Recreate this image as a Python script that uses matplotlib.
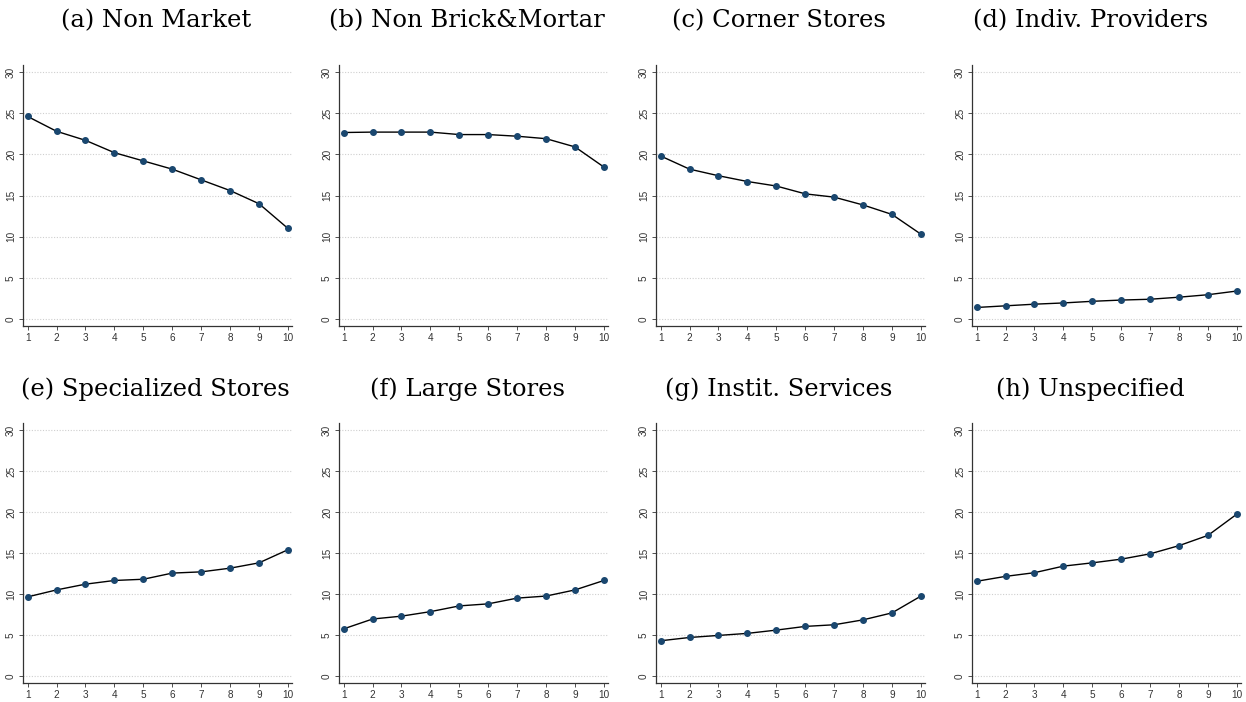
import matplotlib
matplotlib.use("Agg")
import matplotlib.pyplot as plt
import numpy as np

DECILES = np.arange(1, 11)

TITLES = [
    "(a) Non Market",
    "(b) Non Brick&Mortar",
    "(c) Corner Stores",
    "(d) Indiv. Providers",
    "(e) Specialized Stores",
    "(f) Large Stores",
    "(g) Instit. Services",
    "(h) Unspecified",
]

non_market = [24.6, 22.8, 21.7, 20.2, 19.2, 18.2, 16.9, 15.6, 14.0, 11.0]
non_brick_mortar = [22.65, 22.7, 22.7, 22.7, 22.4, 22.4, 22.2, 21.9, 20.9, 18.45]
corner_stores = [19.8, 18.2, 17.4, 16.7, 16.15, 15.2, 14.8, 13.85, 12.7, 10.3]
indiv_providers = [1.4, 1.6, 1.8, 1.95, 2.15, 2.3, 2.4, 2.65, 2.95, 3.4]
specialized_stores = [9.65, 10.5, 11.2, 11.65, 11.8, 12.55, 12.7, 13.15, 13.8, 15.4]
large_stores = [5.75, 6.95, 7.3, 7.85, 8.55, 8.8, 9.5, 9.75, 10.5, 11.65]
instit_services = [4.3, 4.7, 4.95, 5.2, 5.6, 6.05, 6.25, 6.85, 7.7, 9.75]
unspecified = [11.55, 12.15, 12.6, 13.4, 13.8, 14.25, 14.9, 15.9, 17.15, 19.75]

SERIES = [
    non_market, non_brick_mortar, corner_stores, indiv_providers,
    specialized_stores, large_stores, instit_services, unspecified,
]

W, H = 1246, 702
fig = plt.figure(figsize=(W / 100, H / 100), dpi=100)

# axes boxes in pixels: (left, right) per column, (top, bottom) per row
col_px = [(23, 292), (339, 608), (656, 925), (972, 1241)]
row_px = [(65, 326), (423, 683)]
title_y = [21, 389]

for i, (title, values) in enumerate(zip(TITLES, SERIES)):
    r, c = divmod(i, 4)
    x0, x1 = col_px[c]
    y0, y1 = row_px[r]
    ax = fig.add_axes([x0 / W, 1 - y1 / H, (x1 - x0) / W, (y1 - y0) / H])

    ax.plot(DECILES, values, color="black", linewidth=1.0, zorder=2)
    ax.plot(DECILES, values, linestyle="none", marker="o", markersize=4.0,
            color="#1a476f", zorder=3)

    ax.set_xlim(0.84, 10.14)
    ax.set_ylim(-0.85, 30.85)
    ax.set_xticks(DECILES)
    ax.set_yticks(np.arange(0, 31, 5))
    ax.yaxis.grid(True, linestyle=(0, (1, 1.5)), color="#cfcfcf", linewidth=0.8)
    ax.set_axisbelow(True)

    for side in ("top", "right"):
        ax.spines[side].set_visible(False)
    for side in ("left", "bottom"):
        ax.spines[side].set_color("#333333")
        ax.spines[side].set_linewidth(0.9)

    ax.tick_params(axis="both", labelsize=7.2, length=3, width=0.6,
                   colors="#333333", pad=2)
    for lab in ax.get_xticklabels() + ax.get_yticklabels():
        lab.set_fontfamily("Liberation Sans")
    for lab in ax.get_yticklabels():
        lab.set_rotation(90)
        lab.set_va("center")

    fig.text((c + 0.5) / 4, 1 - title_y[r] / H, title, ha="center", va="center",
             fontsize=17.5, family="DejaVu Serif")

fig.savefig("out.png", dpi=100)
